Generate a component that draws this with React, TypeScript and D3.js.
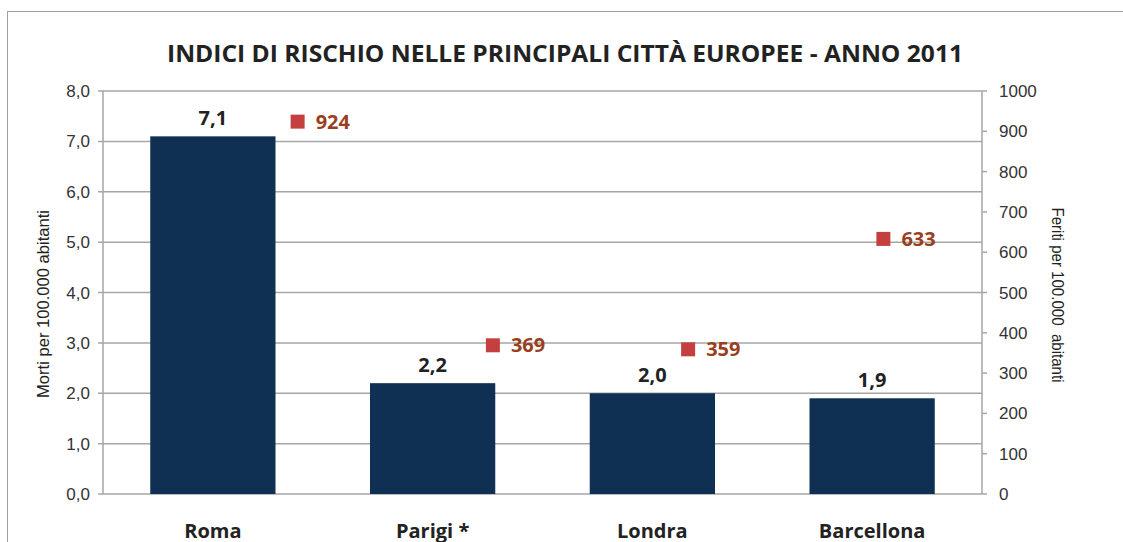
import React from 'react'
import * as d3 from 'd3'

const cities = ['Roma', 'Parigi *', 'Londra', 'Barcellona']
const morti = [7.1, 2.2, 2.0, 1.9]
const feriti = [924, 369, 359, 633]
const leftTicks = [0, 1, 2, 3, 4, 5, 6, 7, 8]
const rightTicks = [0, 100, 200, 300, 400, 500, 600, 700, 800, 900, 1000]

const W = 1123
const H = 542
const plot = { left: 103, right: 982, top: 91, bottom: 494 }
const sans = "'Liberation Sans', Arial, sans-serif"
const bold = "'Open Sans', 'DejaVu Sans', sans-serif"

const fmt = (v: number) => v.toFixed(1).replace('.', ',')

export default function App() {
  const x = d3.scaleBand().domain(cities).range([plot.left, plot.right]).paddingInner(0.43).paddingOuter(0.215)
  // secondary category axis used by the line series
  const x2 = d3.scaleBand().domain(cities).range([200, 981])
  const y = d3.scaleLinear().domain([0, 8]).range([plot.bottom, plot.top])
  const y2 = d3.scaleLinear().domain([0, 1000]).range([plot.bottom, plot.top])
  const grid = '#a6a6a6'
  const midY = (plot.top + plot.bottom) / 2

  return (
    <svg width={W} height={H} style={{ position: 'absolute', left: 0, top: 0, background: '#fff' }}>
      <rect x={7.5} y={11.5} width={1300} height={700} fill="#fff" stroke="#a0a0a0" strokeWidth={1} />

      <text x={565} y={62} textAnchor="middle" fontFamily={bold} fontWeight="bold" fontSize={23}
        textLength={796} lengthAdjust="spacingAndGlyphs" fill="#222">
        INDICI DI RISCHIO NELLE PRINCIPALI CITTÀ EUROPEE - ANNO 2011
      </text>

      {leftTicks.map(t => (
        <g key={'l' + t}>
          <line x1={plot.left - 5} x2={plot.right} y1={y(t)} y2={y(t)} stroke={grid} strokeWidth={1.5} />
          <text x={90} y={y(t) + 6} textAnchor="end" fontFamily={sans} fontSize={17} fill="#333">{fmt(t)}</text>
        </g>
      ))}
      <line x1={plot.left} x2={plot.left} y1={plot.top} y2={plot.bottom} stroke={grid} strokeWidth={1.5} />
      <line x1={plot.right} x2={plot.right} y1={plot.top} y2={plot.bottom} stroke={grid} strokeWidth={1.5} />
      {rightTicks.map(t => (
        <g key={'r' + t}>
          <line x1={plot.right} x2={plot.right + 5} y1={y2(t)} y2={y2(t)} stroke={grid} strokeWidth={1.5} />
          <text x={999} y={y2(t) + 6} fontFamily={sans} fontSize={17} fill="#333">{t}</text>
        </g>
      ))}

      <text transform={`translate(49,${304}) rotate(-90)`} textAnchor="middle"
        fontFamily={sans} fontSize={17} textLength={188} lengthAdjust="spacingAndGlyphs" fill="#222">Morti per 100.000 abitanti</text>
      <text transform={`translate(1052,${295}) rotate(90)`} textAnchor="middle"
        fontFamily={sans} fontSize={17} textLength={175} lengthAdjust="spacingAndGlyphs" fill="#222"
        style={{ whiteSpace: 'pre' }}>{'Feriti per 100.000  abitanti'}</text>

      {cities.map((c, i) => {
        const bx = x(c) as number
        const cx = bx + x.bandwidth() / 2
        return (
          <g key={c}>
            <rect x={bx} y={y(morti[i])} width={x.bandwidth()} height={plot.bottom - y(morti[i])} fill="#0f3052" />
            <text x={cx} y={y(morti[i]) - 11} textAnchor="middle" fontFamily={bold} fontWeight="bold" fontSize={20} fill="#222">
              {fmt(morti[i])}
            </text>
            <text x={cx} y={538} textAnchor="middle" fontFamily={bold} fontWeight="bold" fontSize={20} fill="#222">{c}</text>
          </g>
        )
      })}

      {cities.map((c, i) => {
        const mx = (x2(c) as number) + x2.bandwidth() / 2
        const my = y2(feriti[i])
        return (
          <g key={'m' + c}>
            <rect x={mx - 7} y={my - 7} width={14} height={14} fill="#c4403e" />
            <text x={mx + 18} y={my + 7} fontFamily={bold} fontWeight="bold" fontSize={20} fill="#9a3f1e">{feriti[i]}</text>
          </g>
        )
      })}
    </svg>
  )
}
